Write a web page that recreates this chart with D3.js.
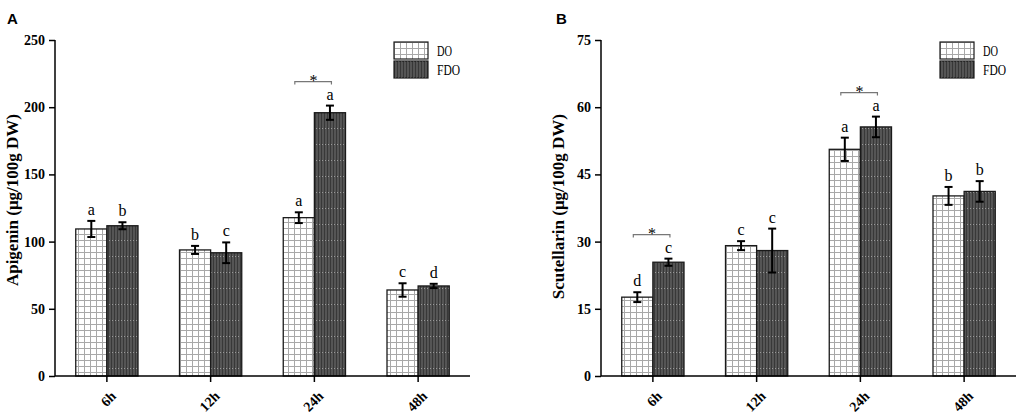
<!DOCTYPE html>
<html lang="en">
<head>
<meta charset="UTF-8">
<title>Apigenin and Scutellarin</title>
<script src="https://cdn.jsdelivr.net/npm/d3@7/dist/d3.min.js"></script>
<style>
  * { box-sizing: border-box; }
  body { margin: 0; background: #fff; }
  svg { display: block; font-family: 'Liberation Serif', 'DejaVu Serif', serif; }
  .panel-label { font-family: 'Liberation Sans', Arial, sans-serif; font-weight: bold; font-size: 15px; }
  .axis path, .axis line { stroke: #000; stroke-width: 1.5; }
  .axis text { font-family: 'Liberation Serif', serif; font-size: 14px; font-weight: bold; fill: #000; }
</style>
</head>
<body>
<svg id="chart" width="1021" height="416"></svg>
<script>
// categories and series
var times = ["6h", "12h", "24h", "48h"];
var series = ["DO", "FDO"];

// panel A, apigenin
var apiDO = [109.4, 93.8, 117.8, 64.0];
var apiDOErr = [6.0, 3.0, 4.0, 5.0];
var apiFDO = [111.8, 91.7, 195.9, 67.0];
var apiFDOErr = [2.6, 7.7, 5.3, 1.6];
var apiDOLetters = ["a", "b", "a", "c"];
var apiFDOLetters = ["b", "c", "a", "d"];
var apiSig = ["24h"];
var apiTicks = [0, 50, 100, 150, 200, 250];

// panel B, scutellarin
var scuDO = [17.6, 29.1, 50.6, 40.2];
var scuDOErr = [1.1, 1.0, 2.6, 2.0];
var scuFDO = [25.4, 28.0, 55.6, 41.2];
var scuFDOErr = [0.8, 4.9, 2.3, 2.3];
var scuDOLetters = ["d", "c", "a", "b"];
var scuFDOLetters = ["c", "c", "a", "b"];
var scuSig = ["6h", "24h"];
var scuTicks = [0, 15, 30, 45, 60, 75];

var svg = d3.select('#chart');
var defs = svg.append('defs');

// white grid fill for DO
var pDO = defs.append('pattern').attr('id', 'patDO').attr('patternUnits', 'userSpaceOnUse')
    .attr('width', 6).attr('height', 6);
pDO.append('rect').attr('width', 6).attr('height', 6).attr('fill', '#fff');
pDO.append('rect').attr('width', 6).attr('height', 1).attr('fill', '#a8a8a8');
pDO.append('rect').attr('width', 1).attr('height', 6).attr('fill', '#a8a8a8');

// dark dotted fill for FDO
var pFDO = defs.append('pattern').attr('id', 'patFDO').attr('patternUnits', 'userSpaceOnUse')
    .attr('width', 3).attr('height', 16);
pFDO.append('rect').attr('width', 3).attr('height', 16).attr('fill', '#555');
pFDO.append('rect').attr('width', 1).attr('height', 16).attr('fill', '#383838');
pFDO.append('rect').attr('x', 1).attr('width', 1).attr('height', 1).attr('fill', '#999');

var fills = { DO: 'url(#patDO)', FDO: 'url(#patFDO)' };

function drawPanel(cfg) {
  var g = svg.append('g');
  var left = cfg.left, top = 40, bottom = 376, right = cfg.left + 415;

  var x = d3.scaleBand().domain(times).range([left, right]).paddingInner(0.4).paddingOuter(0.2);
  var xs = d3.scaleBand().domain(series).range([0, x.bandwidth()]);
  var y = d3.scaleLinear().domain([0, cfg.ticks[cfg.ticks.length - 1]]).range([bottom, top]);

  var rows = times.map(function (t, i) {
    return [
      { t: t, s: 'DO', v: cfg.DO[i], e: cfg.DOErr[i], l: cfg.DOLetters[i] },
      { t: t, s: 'FDO', v: cfg.FDO[i], e: cfg.FDOErr[i], l: cfg.FDOLetters[i] }
    ];
  });
  var flat = d3.merge(rows);
  var cx = function (d) { return x(d.t) + xs(d.s) + xs.bandwidth() / 2; };

  // bars
  g.selectAll('rect.bar').data(flat).join('rect')
    .attr('class', 'bar')
    .attr('x', function (d) { return x(d.t) + xs(d.s); })
    .attr('y', function (d) { return y(d.v); })
    .attr('width', xs.bandwidth())
    .attr('height', function (d) { return bottom - y(d.v); })
    .attr('fill', function (d) { return fills[d.s]; })
    .attr('stroke', '#1a1a1a').attr('stroke-width', 1.3);

  // error bars
  var eb = g.selectAll('g.err').data(flat).join('g').attr('class', 'err')
    .attr('stroke', '#000').attr('stroke-width', 2);
  eb.append('line')
    .attr('x1', cx).attr('x2', cx)
    .attr('y1', function (d) { return y(d.v + d.e); })
    .attr('y2', function (d) { return y(d.v - d.e); });
  [1, -1].forEach(function (k) {
    eb.append('line')
      .attr('x1', function (d) { return cx(d) - 4; })
      .attr('x2', function (d) { return cx(d) + 4; })
      .attr('y1', function (d) { return y(d.v + k * d.e); })
      .attr('y2', function (d) { return y(d.v + k * d.e); });
  });

  // letters
  g.selectAll('text.let').data(flat).join('text')
    .attr('class', 'let')
    .attr('x', cx)
    .attr('y', function (d) { return y(d.v + d.e) - 6; })
    .attr('text-anchor', 'middle')
    .attr('font-size', 16)
    .text(function (d) { return d.l; });

  // significance brackets
  var sig = rows.filter(function (r) { return cfg.sig.indexOf(r[0].t) >= 0; });
  var br = g.selectAll('g.sig').data(sig).join('g').attr('class', 'sig');
  br.append('path')
    .attr('fill', 'none').attr('stroke', '#777').attr('stroke-width', 1.2)
    .attr('d', function (r) {
      var yy = Math.min(y(r[0].v + r[0].e), y(r[1].v + r[1].e)) - 24;
      var x1 = cx(r[0]) - 4, x2 = cx(r[1]) + 1.5;
      return 'M' + x1 + ',' + (yy + 3) + 'V' + yy + 'H' + x2 + 'V' + (yy + 3);
    });
  br.append('text')
    .attr('x', function (r) { return (cx(r[0]) + cx(r[1])) / 2 - 1; })
    .attr('y', function (r) { return Math.min(y(r[0].v + r[0].e), y(r[1].v + r[1].e)) - 20; })
    .attr('text-anchor', 'middle')
    .attr('font-size', 16)
    .text('*');

  // axes
  var yAxis = d3.axisLeft(y).tickValues(cfg.ticks).tickSizeOuter(0).tickSize(6).tickPadding(4);
  g.append('g').attr('class', 'axis').attr('transform', 'translate(' + left + ',0)').call(yAxis)
    .select('.domain').attr('d', 'M0,' + top + 'V' + bottom);

  var xAxis = d3.axisBottom(x).tickSize(6).tickSizeOuter(0);
  var xa = g.append('g').attr('class', 'axis').attr('transform', 'translate(0,' + bottom + ')').call(xAxis);
  xa.select('.domain').attr('d', 'M' + left + ',0H' + right);
  xa.selectAll('.tick text')
    .attr('text-anchor', 'end')
    .attr('dy', 0).attr('y', 0)
    .attr('transform', 'translate(10,21) rotate(-45)');

  // axis title
  g.append('text')
    .attr('transform', 'translate(' + (left - 37) + ',114) rotate(-90)')
    .attr('text-anchor', 'end')
    .attr('font-size', 17).attr('font-weight', 'bold')
    .text(cfg.title);

  // panel letter
  g.append('text').attr('class', 'panel-label')
    .attr('x', cfg.labelX).attr('y', 24).text(cfg.label);

  // legend
  var lg = g.append('g').attr('transform', 'translate(' + (left + 339) + ',42)');
  var li = lg.selectAll('g').data(series).join('g')
    .attr('transform', function (d, i) { return 'translate(0,' + (i * 19) + ')'; });
  li.append('rect').attr('width', 34).attr('height', 17)
    .attr('fill', function (d) { return fills[d]; })
    .attr('stroke', '#1a1a1a').attr('stroke-width', 1.2);
  li.append('text').attr('x', 43).attr('y', 14)
    .attr('font-size', 15)
    .attr('textLength', function (d) { return d === 'DO' ? 15 : 23; })
    .attr('lengthAdjust', 'spacingAndGlyphs')
    .text(function (d) { return d; });
}

drawPanel({
  left: 55, label: 'A', labelX: 7, title: 'Apigenin (\u03bcg/100g DW)', ticks: apiTicks,
  DO: apiDO, DOErr: apiDOErr, FDO: apiFDO, FDOErr: apiFDOErr,
  DOLetters: apiDOLetters, FDOLetters: apiFDOLetters, sig: apiSig
});
drawPanel({
  left: 601, label: 'B', labelX: 556, title: 'Scutellarin (\u03bcg/100g DW)', ticks: scuTicks,
  DO: scuDO, DOErr: scuDOErr, FDO: scuFDO, FDOErr: scuFDOErr,
  DOLetters: scuDOLetters, FDOLetters: scuFDOLetters, sig: scuSig
});
</script>
</body>
</html>
